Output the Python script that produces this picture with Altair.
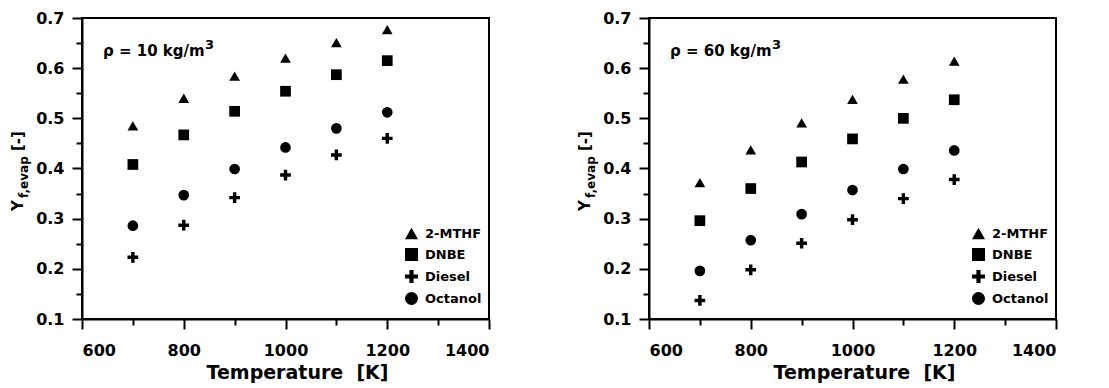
import altair as alt
import pandas as pd

temperature = [700, 800, 900, 1000, 1100, 1200]
fuels = ["2-MTHF", "DNBE", "Diesel", "Octanol"]

# rho = 10 kg/m3
mthf_10 = [0.485, 0.540, 0.584, 0.620, 0.651, 0.677]
dnbe_10 = [0.408, 0.467, 0.514, 0.554, 0.587, 0.615]
diesel_10 = [0.223, 0.287, 0.342, 0.387, 0.427, 0.460]
octanol_10 = [0.286, 0.347, 0.399, 0.442, 0.480, 0.512]

# rho = 60 kg/m3
mthf_60 = [0.372, 0.437, 0.491, 0.538, 0.578, 0.614]
dnbe_60 = [0.296, 0.360, 0.413, 0.459, 0.500, 0.537]
diesel_60 = [0.137, 0.198, 0.251, 0.298, 0.340, 0.378]
octanol_60 = [0.196, 0.257, 0.309, 0.357, 0.399, 0.436]

x_ticks = [600, 700, 800, 900, 1000, 1100, 1200, 1300, 1400]
y_ticks = [0.1, 0.15, 0.2, 0.25, 0.3, 0.35, 0.4, 0.45, 0.5, 0.55, 0.6, 0.65, 0.7]

PLUS = "M-1,-0.32L-0.32,-0.32L-0.32,-1L0.32,-1L0.32,-0.32L1,-0.32L1,0.32L0.32,0.32L0.32,1L-0.32,1L-0.32,0.32L-1,0.32Z"
shapes = ["triangle-up", "square", PLUS, "circle"]

FONT = "DejaVu Sans"
W, H = 407, 301


def make_df(series):
    rows = []
    for fuel, vals in zip(fuels, series):
        for t, v in zip(temperature, vals):
            rows.append({"T": t, "Y": v, "Fuel": fuel})
    return pd.DataFrame(rows)


def panel(series, rho_text):
    df = make_df(series)
    x = alt.X(
        "T:Q",
        scale=alt.Scale(domain=[600, 1400], nice=False, zero=False),
        axis=alt.Axis(
            values=x_ticks,
            format="d",
            labelExpr="datum.value % 200 === 0 ? datum.label : ''",
            tickSize={"condition": {"test": "datum.value % 200 === 0", "value": 10}, "value": 6},
            title="Temperature\u00a0\u00a0[K]",
            titleX=215,
            titleAlign="center",
            labelPadding=13,
            titlePadding=5,
        ),
    )
    y = alt.Y(
        "Y:Q",
        scale=alt.Scale(domain=[0.1, 0.7], nice=False, zero=False),
        axis=alt.Axis(
            values=y_ticks,
            labelExpr="round(datum.value*100) % 10 === 0 ? format(datum.value, '.1f') : ''",
            tickSize={"condition": {"test": "round(datum.value*100) % 10 === 0", "value": 10}, "value": 6},
            title=None,
            labelPadding=8,
        ),
    )
    pts = alt.Chart(df).mark_point(filled=True, opacity=1, color="black", size=115).encode(
        x=x,
        y=y,
        shape=alt.Shape(
            "Fuel:N",
            scale=alt.Scale(domain=fuels, range=shapes),
            legend=alt.Legend(
                orient="none",
                legendX=322,
                legendY=208,
                title=None,
                symbolSize=170,
                symbolFillColor="black",
                symbolStrokeColor="black",
                symbolType="circle",
                labelFont=FONT,
                labelFontWeight="bold",
                labelFontSize=13,
                labelColor="black",
                labelOffset=6,
                rowPadding=1,
            ),
        ),
    )

    def txt(s, x, yy, size, angle=0):
        return alt.Chart(pd.DataFrame({"t": [s]})).mark_text(
            font=FONT, fontWeight="bold", fontSize=size, color="black",
            align="left", baseline="alphabetic", angle=angle,
        ).encode(text="t:N", x=alt.value(x), y=alt.value(yy))

    ytitle = (
        txt("Y", -59, 193, 15, 270)
        + txt("f,evap", -54, 180, 12, 270)
        + txt("[-]", -59, 133, 15, 270)
    )
    rho = txt(rho_text, 21, 38, 15) + txt("3", 123, 31, 13)
    return alt.layer(pts, ytitle, rho).properties(width=W, height=H)


left = panel([mthf_10, dnbe_10, diesel_10, octanol_10], "\u03c1 = 10 kg/m")
right = panel([mthf_60, dnbe_60, diesel_60, octanol_60], "\u03c1 = 60 kg/m")

chart = (
    alt.hconcat(left, right, spacing=160, bounds="flush")
    .resolve_scale(shape="independent")
    .properties(padding={"left": 2, "top": 1, "right": 5, "bottom": 5}, background="white")
    .configure_view(stroke="black", strokeWidth=2)
    .configure_axis(
        grid=False,
        domainColor="black",
        domainWidth=2,
        tickColor="black",
        tickWidth=2,
        labelFont=FONT,
        labelFontWeight="bold",
        labelFontSize=16,
        labelColor="black",
        titleFont=FONT,
        titleFontWeight="bold",
        titleFontSize=19,
        titleColor="black",
    )
)

chart.save("out.html", embed_options={"renderer": "svg", "actions": False})
